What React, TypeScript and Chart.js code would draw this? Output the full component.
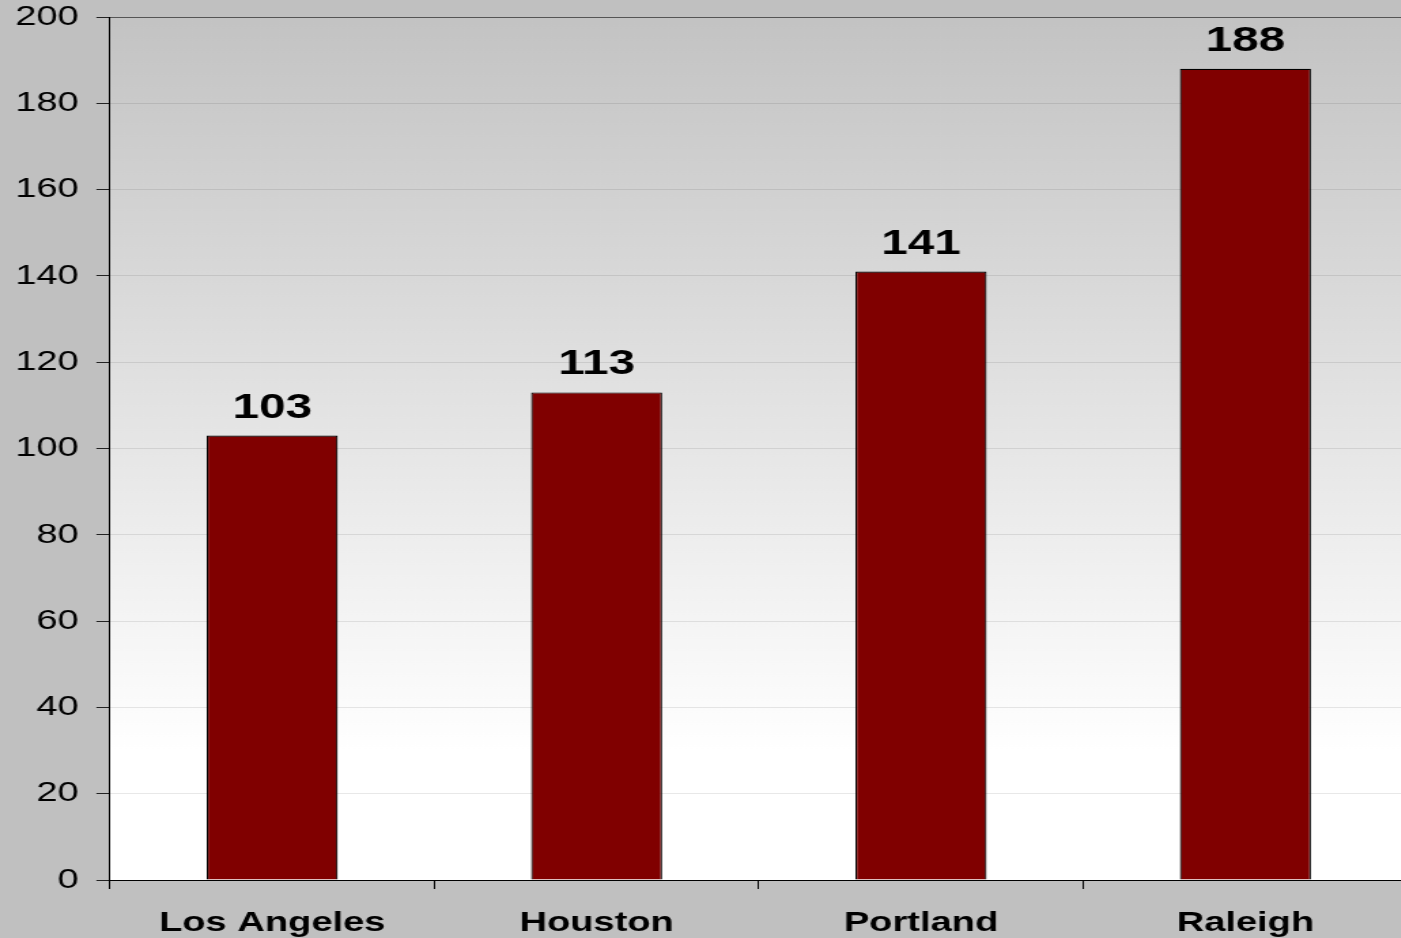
import React, { useEffect, useRef } from "react";
import { Chart, registerables } from "chart.js";

Chart.register(...registerables);

const categories: string[] = ["Los Angeles", "Houston", "Portland", "Raleigh"];
const values: number[] = [103, 113, 141, 188];
const yMin = 0;
const yMax = 200;
const yStep = 20;

const STRETCH = 1.36;
const CANVAS_W = Math.round(1408 / STRETCH);
const CANVAS_H = 960;
const FONT = '"Liberation Sans", Arial, Helvetica, sans-serif';

const bgPlugin = {
  id: "plotBg",
  beforeDraw(chart: any) {
    const { ctx, chartArea } = chart;
    if (!chartArea) return;
    const g = ctx.createLinearGradient(0, chartArea.top, 0, chartArea.bottom);
    g.addColorStop(0, "#c3c3c3");
    g.addColorStop(0.85, "#ffffff");
    g.addColorStop(1, "#ffffff");
    ctx.save();
    ctx.fillStyle = g;
    ctx.fillRect(chartArea.left, chartArea.top, chartArea.right - chartArea.left, chartArea.bottom - chartArea.top);
    ctx.restore();
  },
};

const labelPlugin = {
  id: "valueLabels",
  afterDatasetsDraw(chart: any) {
    const { ctx } = chart;
    const meta = chart.getDatasetMeta(0);
    const data = chart.data.datasets[0].data as number[];
    ctx.save();
    ctx.font = `bold 35px ${FONT}`;
    ctx.fillStyle = "#000000";
    ctx.textAlign = "center";
    ctx.textBaseline = "alphabetic";
    meta.data.forEach((bar: any, i: number) => {
      ctx.fillText(String(data[i]), bar.x, bar.y - 18);
    });
    ctx.restore();
  },
};

export default function App() {
  const ref = useRef<HTMLCanvasElement | null>(null);

  useEffect(() => {
    if (!ref.current) return;
    const chart = new Chart(ref.current, {
      type: "bar",
      data: {
        labels: categories,
        datasets: [
          {
            data: values,
            backgroundColor: "#800000",
            borderColor: "#000000",
            borderWidth: 1.2,
            barPercentage: 0.404,
            categoryPercentage: 1,
          },
        ],
      },
      options: {
        animation: false,
        responsive: false,
        devicePixelRatio: 1,
        layout: { padding: { top: 17, left: 0, right: 0, bottom: 0 } },
        plugins: {
          legend: { display: false },
          tooltip: { enabled: false },
        },
        scales: {
          x: {
            grid: {
              offset: true,
              drawOnChartArea: false,
              drawTicks: true,
              tickLength: 9,
              tickColor: "#000000",
              color: "#000000",
            },
            border: { display: true, color: "#000000", width: 1 },
            ticks: {
              color: "#000000",
              font: { family: FONT, size: 28, weight: "bold" },
              padding: 17,
              maxRotation: 0,
              autoSkip: false,
            },
            afterFit: (s: any) => {
              s.height = CANVAS_H - 880;
              s.paddingLeft = 0;
              s.paddingRight = 0;
            },
          },
          y: {
            min: yMin,
            max: yMax,
            grid: {
              color: (c: any) => (c.tick && c.tick.value === yMax ? "#555555" : "rgba(0,0,0,0.09)"),
              tickColor: "#222222",
              tickLength: 10,
              drawTicks: true,
            },
            border: { display: true, color: "#000000", width: 1 },
            ticks: {
              stepSize: yStep,
              color: "#000000",
              font: { family: FONT, size: 28 },
              padding: 13,
            },
            afterFit: (s: any) => {
              s.width = 110 / STRETCH;
              s.paddingTop = 0;
              s.paddingBottom = 0;
            },
          },
        },
      },
      plugins: [bgPlugin, labelPlugin],
    });
    return () => chart.destroy();
  }, []);

  return (
    <div
      style={{
        position: "fixed",
        left: 0,
        top: 0,
        width: 1401,
        height: 938,
        overflow: "hidden",
        background: "#c0c0c0",
      }}
    >
      <div
        style={{
          width: CANVAS_W,
          height: CANVAS_H,
          transform: `scaleX(${STRETCH})`,
          transformOrigin: "0 0",
        }}
      >
        <canvas ref={ref} width={CANVAS_W} height={CANVAS_H} style={{ display: "block" }} />
      </div>
    </div>
  );
}
